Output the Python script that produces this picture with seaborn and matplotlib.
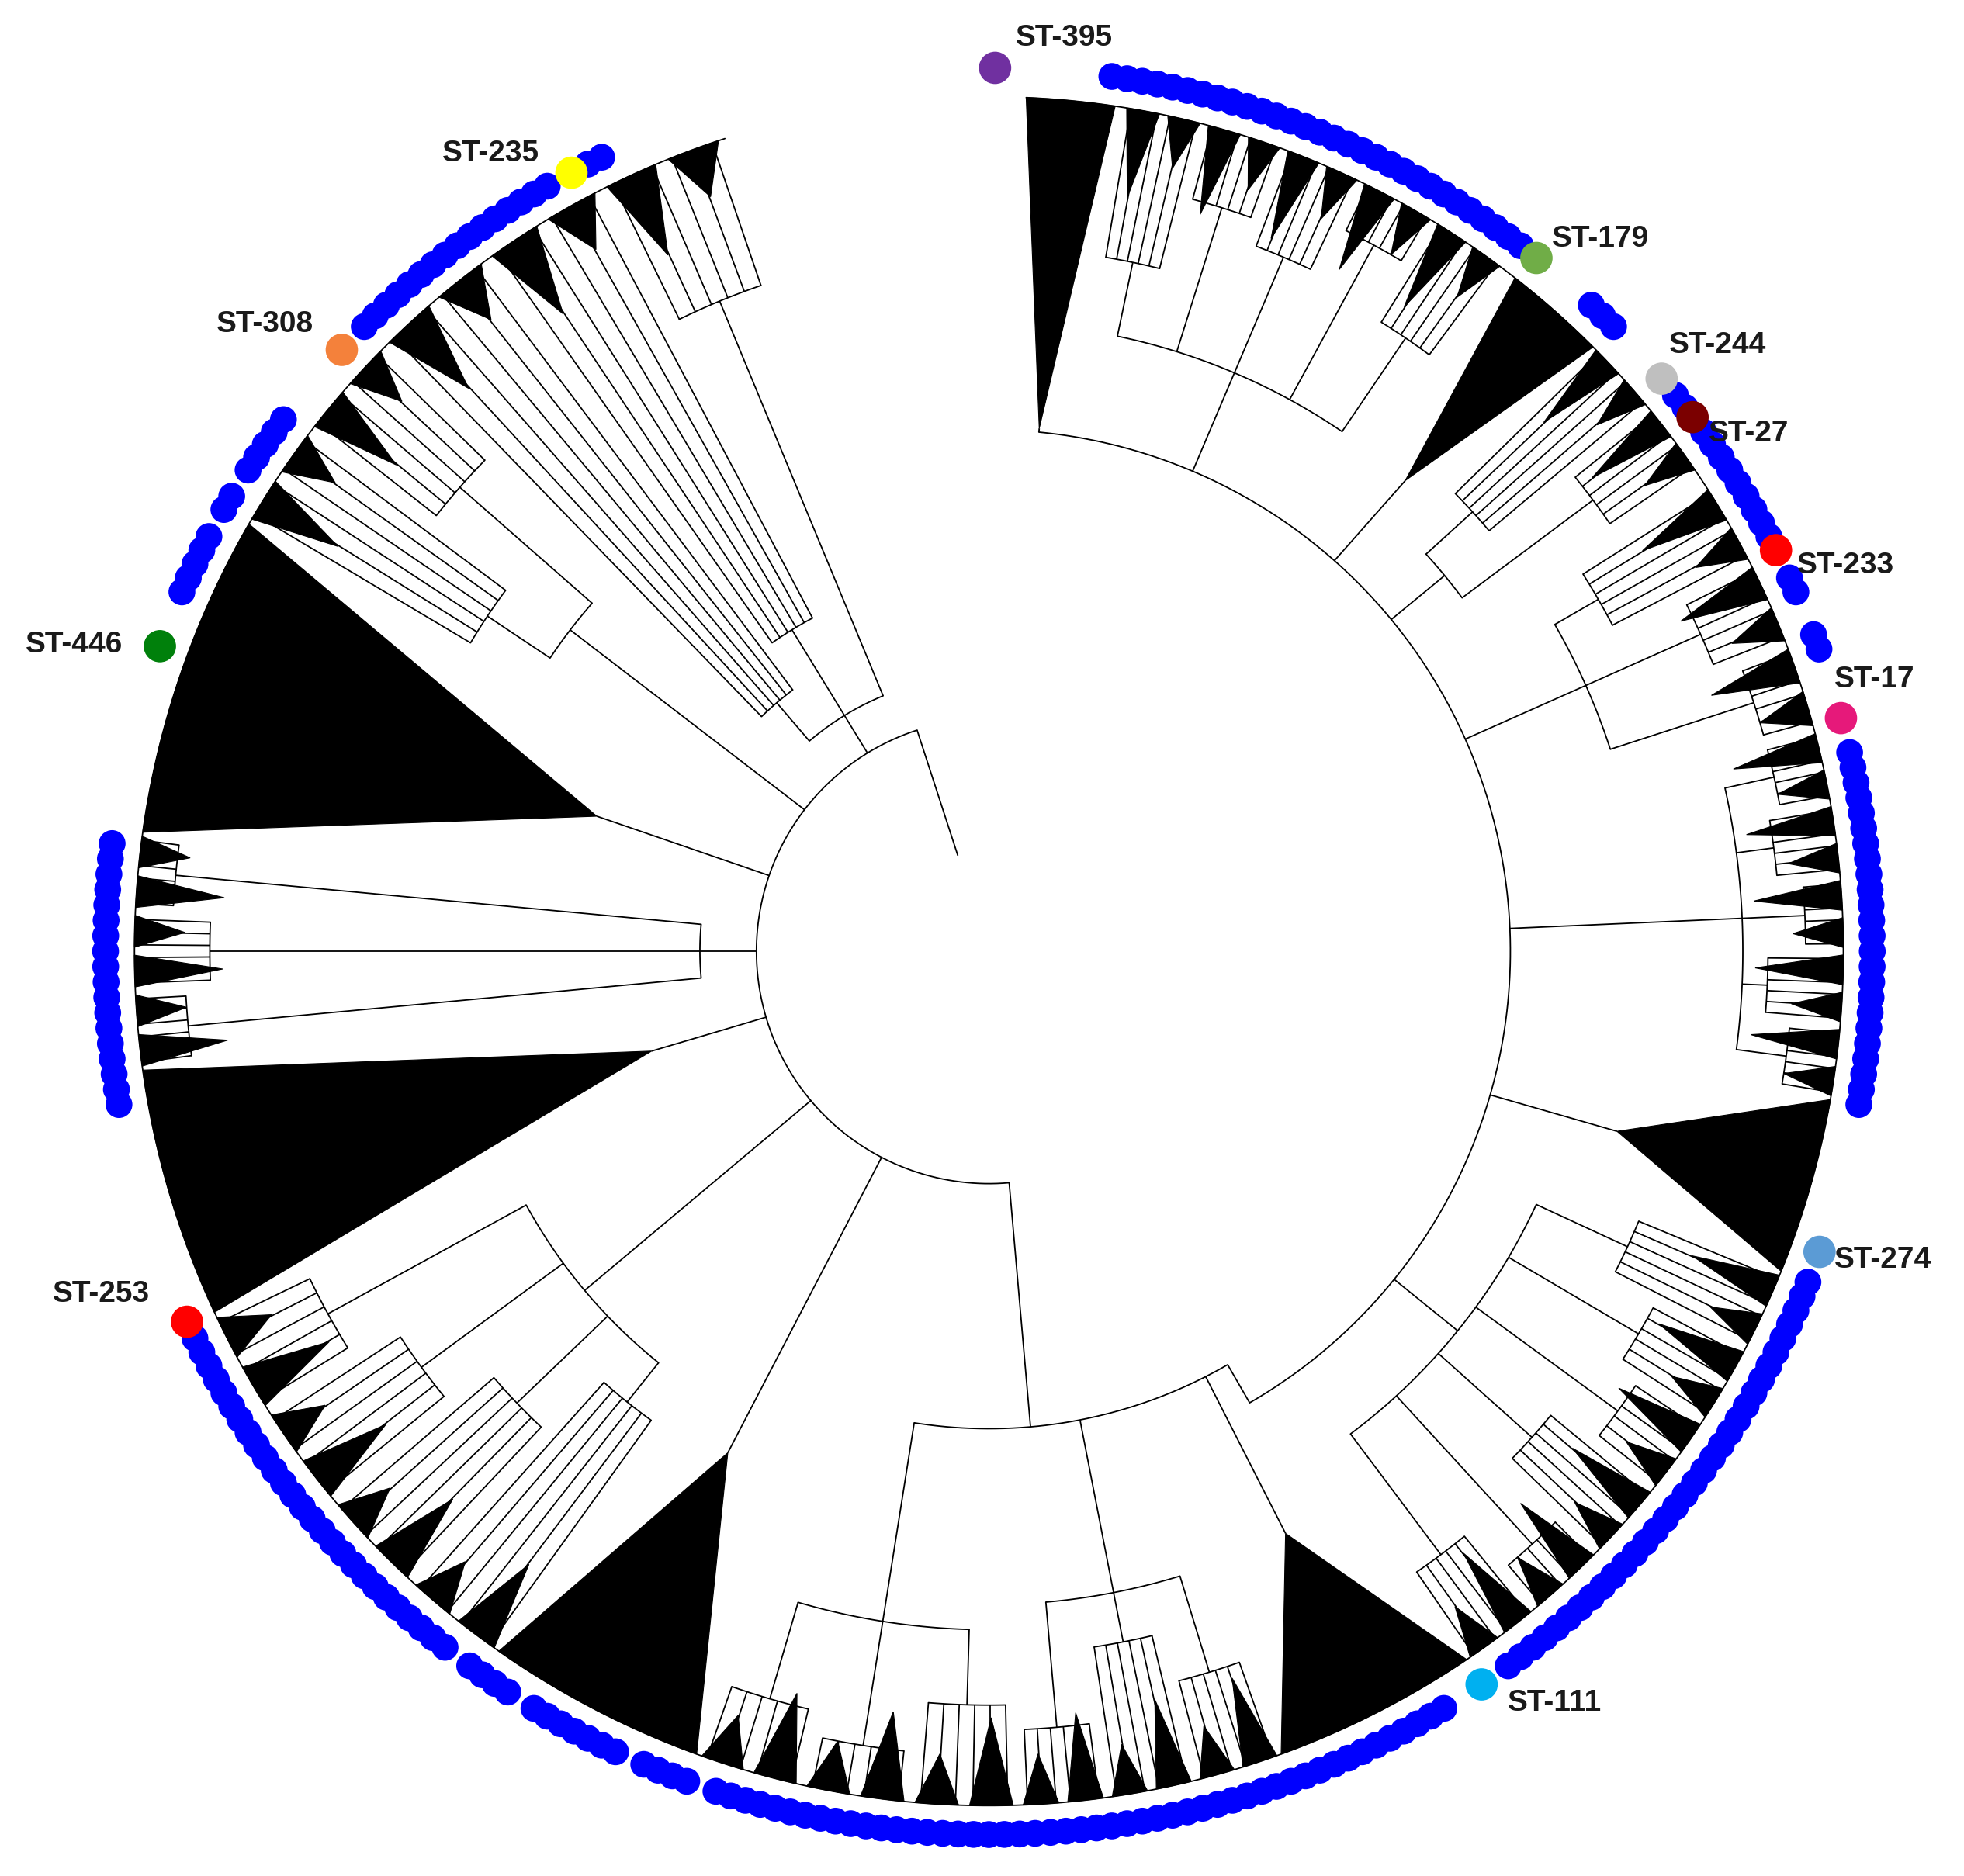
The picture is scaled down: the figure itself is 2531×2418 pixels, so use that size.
import numpy as np
import pandas as pd
import matplotlib
matplotlib.use("Agg")
import matplotlib.pyplot as plt
import seaborn as sns
from matplotlib.patches import Polygon

sns.set_theme(style="white")
plt.rcParams['font.family'] = ['Liberation Sans', 'DejaVu Sans']

# ---- data ----
clade_start = [2.5, 9, 38, 45, 57, 75, 100, 112, 146, 160, 178, 200, 215, 245, 262, 278, 300, 315]
clade_end   = [8.5, 37, 45, 56, 75, 100, 112, 146, 160, 178, 200, 215, 245, 262, 278, 300, 315, 342]
clade_parent = [415, 415, 415, 415, 415, 415, 415, 415, 380, 380, 380, 185, 185, 185, 185, 185, 185, 185]
clade_base  = [418, 500, 500, 470, 520, 600, 520, 480, 520, 520, 540, 450, 420, 280, 230, 330, 420, 220]
clade_kind  = ['w', 'f', 'w', 'f', 'f', 'f', 'w', 'f', 'w', 'f', 'f', 'w', 'f', 'w', 'f', 'w', 'f', 'f']
clade_subs  = [[], [560, 620, 600, 640, 590], [], [520, 600], [560, 620, 640], [640, 630, 650, 620, 640],
               [], [560, 600, 620, 580, 640, 600], [], [600, 560, 620], [600, 640, 620], [],
               [460, 520, 560, 600], [], [640, 620, 650], [], [480, 560], [260, 300, 560]]
arc_r = [185, 380, 415]
arc_a0 = [175, 150, 5.5]
arc_a1 = [342, 189, 150]
stem_ang = [342, 175, 150]
stem_r0 = [80, 185, 380]
stem_r1 = [185, 380, 415]

blue_start = [8, 13, 20, 27, 32, 43, 51, 54, 65, 69, 77, 112, 123, 132, 141, 149, 158, 171, 179, 187,
              200, 205, 213, 218, 260, 294, 300, 303, 315, 333]
blue_end   = [12, 19, 26, 31, 37, 45, 52, 62, 66, 70, 100, 122, 131, 140, 144, 157, 170, 178, 186, 198,
              203, 211, 216, 244, 277, 298, 301, 307, 330, 334]
st_labels = ['ST-395', 'ST-179', 'ST-244', 'ST-27', 'ST-233', 'ST-17', 'ST-274', 'ST-111',
             'ST-253', 'ST-446', 'ST-308', 'ST-235']
st_angles = [0.4, 38.3, 49.6, 52.8, 63.0, 74.7, 109.9, 146.1, 245.2, 290.2, 312.9, 331.8]
st_colors = ['#7030A0', '#70AD47', '#BFBFBF', '#7B0000', '#FF0000', '#E6197A', '#5B9BD5', '#00B0F0',
             '#FF0000', '#00800B', '#F4813B', '#FFFF00']
label_x = [808, 1235, 1328, 1360, 1430, 1460, 1460, 1200, 42, 20, 172, 352]
label_y = [30, 190, 275, 345, 450, 541, 1003, 1355, 1030, 513, 258, 122]

# ---- drawing ----
CX, CY, RT, RD = 787, 757, 680, 703
W, H = 1563, 1493

def pt(a, r):
    t = np.deg2rad(a)
    return CX + r * np.sin(t), CY - r * np.cos(t)

fig = plt.figure(figsize=(25.31, 24.18), dpi=100)
ax = fig.add_axes([0, 0, 1, 1])
LW = 1.3

def line(a, r0, r1):
    x0, y0 = pt(a, r0); x1, y1 = pt(a, r1)
    ax.plot([x0, x1], [y0, y1], color='black', lw=LW, solid_capstyle='butt')

def arc(r, a0, a1):
    aa = np.linspace(a0, a1, max(3, int(abs(a1 - a0) * 4)))
    xs, ys = pt(aa, r)
    ax.plot(xs, ys, color='black', lw=LW)

def wedge(a0, a1, ra, r_tip=RT):
    am = (a0 + a1) / 2
    aa = np.linspace(a0, a1, 60)
    xs, ys = pt(aa, r_tip)
    px, py = pt(am, ra)
    poly = np.column_stack([np.r_[px, xs], np.r_[py, ys]])
    ax.add_patch(Polygon(poly, closed=True, fc='black', ec='black', lw=0.8))

for r, a0, a1 in zip(arc_r, arc_a0, arc_a1):
    arc(r, a0, a1)
for a, r0, r1 in zip(stem_ang, stem_r0, stem_r1):
    line(a, r0, r1)

for a0, a1, rp, rb, kind, subs in zip(clade_start, clade_end, clade_parent, clade_base, clade_kind, clade_subs):
    am = (a0 + a1) / 2
    line(am, rp, rb)
    if kind == 'w':
        wedge(a0, a1, rb)
        continue
    n = len(subs)
    w = (a1 - a0) / n
    mids = [a0 + w * (i + 0.5) for i in range(n)]
    arc(rb, mids[0], mids[-1])
    for i, rs in enumerate(subs):
        s0, s1 = a0 + w * i, a0 + w * (i + 1)
        sm = mids[i]
        line(sm, rb, rs)
        inner = np.linspace(s0 + w * 0.1, s1 - w * 0.1, 6)
        arc(rs, inner[0], inner[-1])
        for aa in inner:
            line(aa, rs, RT)
        half = (s1 - s0) / 2
        wedge(s0 + w * 0.05, s0 + half * 0.9, RT - 70)
        wedge(sm + half * 0.1, s1 - w * 0.05, RT - 40)

arc(RT, 2.5, 342)

ang = []
for s, e in zip(blue_start, blue_end):
    ang.extend(np.arange(s, e + 0.01, 1.0))
ang = np.array(ang)
bx, by = pt(ang, RD)
dfb = pd.DataFrame({'x': bx, 'y': by})
sns.scatterplot(data=dfb, x='x', y='y', color='#0000FF', s=620, edgecolor='none', ax=ax, zorder=5)

sx, sy = pt(np.array(st_angles), RD)
dfs = pd.DataFrame({'x': sx, 'y': sy, 'label': st_labels})
sns.scatterplot(data=dfs, x='x', y='y', hue='label', palette=dict(zip(st_labels, st_colors)),
                s=900, edgecolor='none', ax=ax, legend=False, zorder=6)

for lab, x, y in zip(st_labels, label_x, label_y):
    ax.text(x, y, lab, fontsize=28, fontweight='bold', ha='left', va='center', color='#1a1a1a', zorder=7)

ax.set_xlim(0, W)
ax.set_ylim(H, 0)
ax.axis('off')
fig.savefig('out.png', dpi=100)
